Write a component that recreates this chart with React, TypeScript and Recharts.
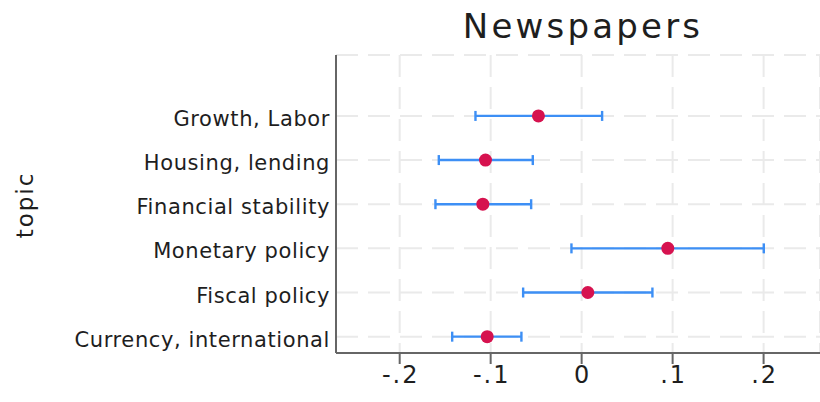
import React from 'react';
import { ScatterChart, Scatter, XAxis, YAxis, CartesianGrid, ErrorBar } from 'recharts';

// Topics, top to bottom
const topics = [
  'Growth, Labor',
  'Housing, lending',
  'Financial stability',
  'Monetary policy',
  'Fiscal policy',
  'Currency, international',
];

// Point estimates and confidence interval bounds
const estimates = [-0.0475, -0.1057, -0.1086, 0.0947, 0.0068, -0.1038];
const ciLow = [-0.1167, -0.157, -0.1607, -0.0112, -0.0643, -0.1423];
const ciHigh = [0.0225, -0.0537, -0.0555, 0.2002, 0.0778, -0.0662];

// X axis ticks and their labels
const xTicks = [-0.2, -0.1, 0, 0.1, 0.2];
const xTickLabels = ['-.2', '-.1', '0', '.1', '.2'];

const rows = topics.map((topic, i) => ({
  topic,
  pos: topics.length - i,
  est: estimates[i],
  err: [estimates[i] - ciLow[i], ciHigh[i] - estimates[i]],
}));

const FONT = '"DejaVu Sans", sans-serif';
const TEXT = '#1e1e1e';
const AXIS = '#666666';
const POINT = '#d6124f';
const BAR = '#3d8ff5';

const YTick = (props: any) => {
  const { x, y, payload } = props;
  const row = rows.find((r) => r.pos === payload.value);
  return (
    <text
      x={x}
      y={y + 10}
      textAnchor="end"
      fontFamily={FONT}
      fontSize={21}
      letterSpacing={0.6}
      fill={TEXT}
    >
      {row ? row.topic : ''}
    </text>
  );
};

const XTick = (props: any) => {
  const { x, y, payload } = props;
  const idx = xTicks.indexOf(payload.value);
  return (
    <text
      x={x + 1}
      y={y + 17}
      textAnchor="middle"
      fontFamily={FONT}
      fontSize={24}
      letterSpacing={2}
      fill={TEXT}
    >
      {idx >= 0 ? xTickLabels[idx] : ''}
    </text>
  );
};

const Dot = (props: any) => {
  const { cx, cy } = props;
  return <circle cx={cx} cy={cy} r={6.5} fill={POINT} />;
};

const NoShape = () => <g />;

export default function App() {
  return (
    <div style={{ position: 'absolute', left: 0, top: 0, width: 820, height: 402, background: '#fff' }}>
      <ScatterChart width={820} height={402} margin={{ top: 55, right: 0, bottom: 0, left: 0 }}>
        <CartesianGrid stroke="#eaeaea" strokeWidth={2} strokeDasharray="22 10" />
        <XAxis
          type="number"
          dataKey="est"
          domain={[-0.27, 0.262]}
          ticks={xTicks}
          allowDataOverflow
          height={49}
          axisLine={{ stroke: AXIS, strokeWidth: 2 }}
          tickLine={{ stroke: AXIS, strokeWidth: 2 }}
          tickSize={11}
          tick={<XTick />}
        />
        <YAxis
          type="number"
          dataKey="pos"
          domain={[0.63, 7.38]}
          ticks={[1, 2, 3, 4, 5, 6]}
          allowDataOverflow
          width={336}
          axisLine={{ stroke: AXIS, strokeWidth: 2 }}
          tickLine={false}
          tickSize={0}
          tickMargin={6}
          tick={<YTick />}
        />
        <Scatter data={rows} shape={<NoShape />} isAnimationActive={false}>
          <ErrorBar dataKey="err" direction="x" width={5} strokeWidth={2.4} stroke={BAR} isAnimationActive={false} />
        </Scatter>
        <Scatter data={rows} shape={<Dot />} isAnimationActive={false} />
        <text
          x={583}
          y={38}
          textAnchor="middle"
          fontFamily={FONT}
          fontSize={34}
          letterSpacing={3.2}
          fill={TEXT}
        >
          Newspapers
        </text>
        <text
          x={33}
          y={205}
          textAnchor="middle"
          fontFamily={FONT}
          fontSize={23}
          letterSpacing={2}
          fill={TEXT}
          transform="rotate(-90, 33, 205)"
        >
          topic
        </text>
      </ScatterChart>
    </div>
  );
}
